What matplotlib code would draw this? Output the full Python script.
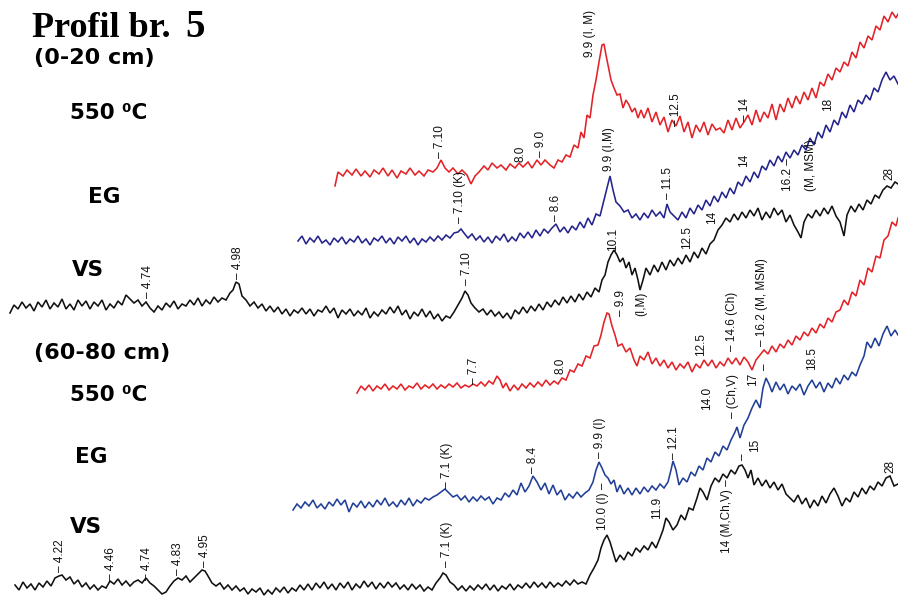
import matplotlib
matplotlib.use("Agg")
import matplotlib.pyplot as plt
from matplotlib import font_manager
import numpy as np

# traces: (position, level) pairs, level grows downwards
red_top = [(335, 186), (338, 172), (343, 176), (347, 170), (352, 175), (356, 169), (361, 176), (365, 171),
           (370, 177), (374, 170), (379, 174), (383, 168), (388, 176), (392, 170), (397, 178), (401, 171),
           (406, 174), (410, 168), (415, 175), (419, 171), (424, 176), (428, 170), (433, 172), (437, 168),
           (441, 160), (445, 168), (449, 172), (453, 168), (458, 174), (462, 170), (467, 175), (471, 184),
           (475, 176), (479, 172), (484, 166), (488, 170), (492, 163), (497, 168), (501, 165), (506, 170),
           (510, 164), (515, 168), (519, 163), (523, 167), (528, 162), (532, 168), (537, 160), (541, 165),
           (545, 160), (550, 165), (554, 168), (558, 160), (562, 162), (566, 155), (570, 157), (574, 145),
           (578, 148), (581, 132), (584, 138), (587, 115), (590, 118), (593, 95), (596, 80), (599, 62),
           (602, 45), (604, 44), (606, 55), (608, 65), (611, 80), (614, 88), (617, 95), (620, 94),
           (623, 108), (626, 100), (629, 105), (632, 112), (635, 108), (638, 118), (641, 110), (644, 118),
           (648, 108), (652, 122), (656, 112), (660, 125), (664, 117), (668, 132), (672, 120), (676, 126),
           (680, 116), (684, 132), (688, 122), (692, 138), (696, 125), (700, 132), (704, 122), (708, 135),
           (712, 124), (716, 130), (720, 128), (724, 133), (728, 120), (732, 130), (736, 118), (740, 128),
           (744, 122), (748, 115), (752, 125), (756, 110), (760, 122), (764, 112), (768, 118), (772, 104),
           (776, 120), (780, 104), (784, 112), (788, 98), (792, 108), (796, 96), (800, 104), (804, 92),
           (808, 100), (812, 88), (816, 98), (820, 82), (824, 86), (828, 74), (832, 80), (836, 68),
           (840, 72), (844, 62), (848, 66), (852, 52), (856, 58), (860, 42), (864, 48), (868, 36),
           (872, 40), (876, 26), (880, 30), (884, 16), (888, 22), (892, 12), (896, 18), (898, 14)]

blue_top = [(298, 241), (302, 236), (306, 244), (310, 238), (314, 242), (318, 236), (322, 243), (326, 240),
            (330, 245), (334, 238), (338, 242), (342, 237), (346, 244), (350, 239), (354, 242), (358, 236),
            (362, 243), (366, 239), (370, 245), (374, 238), (378, 241), (382, 236), (386, 243), (390, 238),
            (394, 244), (398, 237), (402, 241), (406, 236), (410, 243), (414, 238), (418, 245), (422, 239),
            (426, 242), (430, 237), (434, 241), (438, 236), (442, 240), (446, 235), (450, 238), (454, 233),
            (458, 232), (461, 229), (464, 233), (468, 238), (472, 234), (476, 240), (480, 236), (484, 242),
            (488, 237), (492, 243), (496, 236), (500, 240), (504, 234), (508, 242), (512, 237), (516, 241),
            (520, 233), (524, 238), (528, 232), (532, 238), (536, 230), (540, 236), (544, 229), (548, 233),
            (552, 228), (556, 224), (560, 232), (564, 227), (568, 233), (572, 226), (576, 230), (580, 222),
            (584, 228), (588, 218), (592, 225), (596, 214), (600, 216), (604, 200), (607, 188), (610, 176),
            (613, 190), (616, 202), (620, 206), (624, 212), (628, 210), (632, 218), (636, 214), (640, 220),
            (644, 213), (648, 218), (652, 210), (656, 216), (660, 212), (664, 218), (667, 204), (670, 212),
            (674, 216), (678, 220), (682, 212), (686, 218), (690, 208), (694, 214), (698, 205), (702, 210),
            (706, 200), (710, 206), (714, 196), (718, 202), (722, 192), (726, 198), (730, 188), (734, 194),
            (738, 182), (742, 186), (746, 176), (750, 182), (754, 172), (758, 178), (762, 166), (766, 170),
            (770, 160), (774, 166), (778, 156), (782, 162), (786, 152), (790, 158), (794, 150), (798, 155),
            (802, 145), (806, 150), (810, 138), (814, 145), (818, 132), (822, 138), (826, 125), (830, 132),
            (834, 120), (838, 125), (842, 112), (846, 118), (850, 105), (854, 112), (858, 100), (862, 104),
            (866, 95), (870, 100), (874, 88), (878, 92), (882, 80), (886, 72), (890, 80), (894, 76), (898, 84)]

black_top = [(10, 313), (14, 305), (18, 309), (22, 302), (26, 308), (30, 304), (34, 311), (38, 302),
             (42, 307), (46, 300), (50, 309), (54, 303), (58, 307), (62, 299), (66, 309), (70, 304),
             (74, 310), (78, 300), (82, 306), (86, 301), (90, 309), (94, 302), (98, 306), (102, 300),
             (106, 310), (110, 304), (114, 308), (118, 301), (122, 305), (126, 295), (130, 299), (134, 303),
             (138, 300), (142, 306), (146, 302), (150, 308), (154, 312), (158, 306), (162, 310), (166, 303),
             (170, 307), (174, 301), (178, 309), (182, 304), (186, 306), (190, 300), (194, 305), (198, 298),
             (202, 306), (206, 300), (210, 304), (214, 297), (218, 302), (222, 298), (226, 300), (230, 293),
             (233, 290), (236, 282), (239, 284), (242, 296), (246, 300), (250, 306), (254, 302), (258, 308),
             (262, 304), (266, 311), (270, 306), (274, 312), (278, 307), (282, 314), (286, 309), (290, 316),
             (294, 310), (298, 313), (302, 308), (306, 314), (310, 309), (314, 316), (318, 310), (322, 312),
             (326, 306), (330, 313), (334, 308), (338, 318), (342, 310), (346, 314), (350, 309), (354, 316),
             (358, 311), (362, 315), (366, 308), (370, 318), (374, 312), (378, 316), (382, 310), (386, 314),
             (390, 307), (394, 313), (398, 306), (402, 315), (406, 310), (410, 319), (414, 312), (418, 316),
             (422, 309), (426, 317), (430, 311), (434, 319), (438, 314), (442, 321), (446, 316), (450, 318),
             (454, 312), (458, 305), (462, 298), (465, 291), (468, 295), (471, 303), (475, 308), (479, 312),
             (483, 309), (487, 315), (491, 310), (495, 316), (499, 312), (503, 318), (507, 313), (511, 319),
             (515, 310), (519, 314), (523, 307), (527, 313), (531, 306), (535, 311), (539, 304), (543, 310),
             (547, 302), (551, 307), (555, 300), (559, 305), (563, 297), (567, 303), (571, 296), (575, 302),
             (579, 294), (583, 300), (587, 292), (591, 297), (595, 288), (599, 292), (602, 280), (605, 275),
             (608, 262), (611, 255), (614, 250), (617, 255), (620, 262), (623, 258), (626, 268), (629, 262),
             (632, 275), (635, 268), (638, 280), (640, 290), (643, 280), (646, 268), (650, 275), (654, 265),
             (658, 272), (662, 262), (666, 270), (670, 260), (674, 266), (678, 258), (682, 264), (686, 255),
             (690, 262), (694, 252), (698, 258), (702, 248), (706, 254), (710, 244), (714, 240), (718, 230),
             (722, 225), (726, 218), (730, 222), (734, 214), (738, 220), (742, 212), (746, 218), (750, 210),
             (754, 216), (758, 208), (762, 220), (766, 212), (770, 218), (774, 208), (778, 215), (782, 210),
             (786, 222), (790, 215), (794, 225), (798, 232), (801, 238), (804, 222), (808, 214), (812, 218),
             (816, 210), (820, 216), (824, 208), (828, 214), (832, 206), (836, 216), (840, 222), (844, 236),
             (847, 215), (851, 206), (855, 212), (859, 204), (863, 210), (867, 200), (871, 204), (875, 195),
             (879, 198), (883, 190), (887, 186), (891, 188), (895, 182), (898, 184)]

red_bottom = [(357, 393), (361, 386), (365, 390), (369, 385), (373, 391), (377, 386), (381, 389), (385, 384),
              (389, 390), (393, 386), (397, 389), (401, 384), (405, 390), (409, 386), (413, 388), (417, 383),
              (421, 389), (425, 385), (429, 388), (433, 384), (437, 389), (441, 385), (445, 388), (449, 384),
              (453, 387), (457, 383), (461, 388), (465, 385), (469, 387), (473, 384), (477, 386), (481, 382),
              (485, 386), (489, 381), (493, 384), (497, 376), (500, 380), (503, 388), (506, 383), (510, 391),
              (514, 385), (518, 390), (522, 384), (526, 388), (530, 383), (534, 387), (538, 382), (542, 386),
              (546, 380), (550, 385), (554, 381), (558, 384), (562, 378), (566, 380), (570, 370), (574, 372),
              (578, 364), (582, 366), (586, 356), (590, 358), (594, 346), (598, 345), (601, 335), (604, 322),
              (607, 313), (609, 314), (612, 326), (615, 335), (618, 346), (622, 344), (626, 352), (630, 348),
              (634, 360), (637, 366), (640, 356), (644, 360), (648, 352), (652, 364), (656, 358), (660, 366),
              (664, 360), (668, 368), (672, 362), (676, 370), (680, 364), (684, 368), (688, 362), (692, 372),
              (696, 364), (700, 368), (704, 360), (708, 366), (712, 360), (716, 368), (720, 362), (724, 366),
              (728, 358), (732, 364), (736, 358), (740, 365), (744, 357), (748, 362), (752, 370), (756, 360),
              (760, 355), (764, 350), (768, 354), (772, 346), (776, 352), (780, 344), (784, 348), (788, 340),
              (792, 345), (796, 336), (800, 340), (804, 332), (808, 336), (812, 328), (816, 333), (820, 324),
              (824, 328), (828, 318), (832, 322), (836, 312), (840, 310), (844, 300), (848, 305), (852, 292),
              (856, 296), (860, 280), (864, 285), (868, 268), (872, 272), (876, 256), (880, 258), (884, 240),
              (888, 236), (892, 222), (896, 226), (898, 218)]

blue_bottom = [(293, 510), (297, 504), (301, 508), (305, 502), (309, 506), (313, 500), (317, 508), (321, 504),
               (325, 509), (329, 502), (333, 506), (337, 499), (341, 505), (345, 500), (349, 512), (353, 503),
               (357, 507), (361, 501), (365, 508), (369, 502), (373, 507), (377, 500), (381, 505), (385, 498),
               (389, 506), (393, 502), (397, 507), (401, 500), (405, 505), (409, 498), (413, 506), (417, 500),
               (421, 503), (425, 498), (429, 500), (433, 497), (437, 495), (441, 492), (445, 489), (449, 493),
               (453, 497), (457, 495), (461, 500), (465, 496), (469, 502), (473, 497), (477, 501), (481, 496),
               (485, 500), (489, 497), (493, 504), (497, 498), (501, 500), (505, 493), (509, 497), (513, 490),
               (517, 495), (521, 483), (525, 492), (529, 486), (533, 476), (537, 482), (541, 490), (545, 483),
               (549, 494), (553, 485), (557, 495), (561, 490), (565, 500), (569, 494), (573, 498), (577, 492),
               (581, 497), (585, 493), (589, 490), (593, 482), (596, 470), (599, 462), (602, 468), (605, 475),
               (608, 478), (611, 484), (614, 480), (617, 492), (620, 485), (624, 494), (628, 488), (632, 495),
               (636, 488), (640, 494), (644, 487), (648, 492), (652, 486), (656, 490), (660, 484), (664, 488),
               (668, 482), (671, 470), (673, 461), (676, 470), (679, 485), (683, 478), (687, 482), (691, 472),
               (695, 476), (699, 466), (703, 470), (707, 458), (711, 462), (715, 452), (719, 456), (723, 446),
               (727, 450), (731, 440), (735, 432), (737, 427), (740, 438), (744, 425), (748, 418), (752, 408),
               (756, 400), (760, 408), (763, 388), (766, 378), (769, 384), (772, 392), (776, 382), (780, 390),
               (784, 384), (788, 394), (792, 386), (796, 390), (800, 384), (804, 395), (808, 386), (812, 380),
               (816, 388), (820, 382), (824, 392), (828, 383), (832, 388), (836, 378), (840, 384), (844, 375),
               (848, 380), (852, 372), (856, 376), (860, 365), (864, 356), (867, 342), (871, 348), (875, 338),
               (879, 346), (883, 334), (887, 326), (891, 336), (895, 330), (898, 335)]

black_bottom = [(15, 585), (19, 590), (23, 582), (27, 588), (31, 584), (35, 590), (39, 583), (43, 587),
                (47, 581), (51, 586), (55, 578), (59, 576), (62, 575), (66, 580), (70, 577), (74, 584),
                (78, 580), (82, 587), (86, 583), (90, 589), (94, 585), (98, 590), (102, 586), (106, 588),
                (110, 581), (114, 584), (118, 579), (122, 585), (126, 581), (130, 586), (134, 582), (138, 580),
                (142, 583), (146, 578), (150, 583), (154, 586), (158, 590), (162, 594), (166, 592), (170, 586),
                (174, 581), (178, 578), (182, 580), (186, 576), (190, 582), (194, 578), (198, 574), (202, 570),
                (205, 571), (208, 576), (212, 583), (216, 586), (220, 583), (224, 589), (228, 585), (232, 590),
                (236, 586), (240, 591), (244, 588), (248, 594), (252, 589), (256, 592), (260, 588), (264, 595),
                (268, 590), (272, 594), (276, 588), (280, 592), (284, 587), (288, 593), (292, 588), (296, 591),
                (300, 585), (304, 590), (308, 584), (312, 590), (316, 583), (320, 588), (324, 582), (328, 589),
                (332, 584), (336, 590), (340, 583), (344, 588), (348, 582), (352, 590), (356, 584), (360, 588),
                (364, 581), (368, 587), (372, 582), (376, 589), (380, 583), (384, 588), (388, 582), (392, 587),
                (396, 583), (400, 589), (404, 585), (408, 590), (412, 584), (416, 589), (420, 585), (424, 591),
                (428, 587), (432, 590), (436, 583), (440, 578), (443, 573), (446, 575), (450, 582), (454, 585),
                (458, 590), (462, 586), (466, 591), (470, 586), (474, 590), (478, 585), (482, 589), (486, 584),
                (490, 590), (494, 585), (498, 591), (502, 586), (506, 589), (510, 584), (514, 590), (518, 585),
                (522, 588), (526, 583), (530, 588), (534, 582), (538, 587), (542, 583), (546, 588), (550, 582),
                (554, 587), (558, 583), (562, 586), (566, 581), (570, 585), (574, 580), (578, 584), (582, 582),
                (586, 584), (590, 575), (594, 568), (598, 560), (601, 548), (604, 540), (607, 535), (610, 542),
                (613, 552), (616, 562), (620, 555), (624, 560), (628, 552), (632, 556), (636, 548), (640, 552),
                (644, 546), (648, 550), (652, 542), (656, 548), (660, 538), (663, 530), (666, 518), (669, 522),
                (673, 530), (677, 525), (681, 515), (685, 520), (689, 508), (693, 510), (697, 498), (700, 488),
                (703, 492), (707, 500), (711, 486), (715, 478), (719, 482), (723, 474), (727, 478), (731, 470),
                (735, 474), (739, 466), (742, 465), (745, 470), (748, 478), (751, 470), (754, 485), (758, 478),
                (762, 486), (766, 480), (770, 488), (774, 482), (778, 490), (782, 484), (786, 494), (790, 498),
                (794, 502), (798, 495), (802, 504), (806, 498), (810, 508), (814, 500), (818, 506), (822, 496),
                (826, 503), (830, 494), (834, 488), (838, 496), (842, 506), (846, 498), (850, 502), (854, 492),
                (858, 497), (862, 488), (866, 494), (870, 486), (874, 490), (878, 482), (882, 486), (886, 478),
                (890, 476), (894, 486), (898, 484)]

# peak labels (position, foot of the label, text)
peak_labels = [
    (440, 158, "– 7.10"), (520, 162, "8.0"), (541, 157, "– 9.0"), (590, 57, "9.9 (I, M)"),
    (676, 126, "– 12.5"), (745, 121, "– 14"),
    (460, 223, "– 7.10 (K)"), (556, 221, "– 8.6"), (609, 171, "9.9 (I,M)"), (668, 199, "– 11.5"),
    (744, 167, "14"), (788, 191, "16.2 –"), (811, 191, "(M, MSM)"), (828, 111, "18"),
    (148, 298, "– 4.74"), (238, 279, "– 4.98"), (467, 285, "– 7.10"), (613, 251, "10.1"),
    (641, 316, "(I,M)"), (687, 249, "12.5"), (712, 224, "14"), (889, 180, "28"),
    (474, 384, "– 7.7"), (560, 374, "8.0"), (621, 316, "– 9.9"), (701, 356, "12.5"),
    (732, 351, "– 14.6 (Ch)"), (762, 346, "– 16.2 (M, MSM)"),
    (447, 488, "– 7.1 (K)"), (533, 473, "– 8.4"), (600, 458, "– 9.9 (I)"), (674, 459, "– 12.1"),
    (707, 410, "14.0"), (733, 418, "– (Ch,V)"), (753, 386, "17"), (765, 370, "–"), (812, 370, "18.5"),
    (60, 572, "– 4.22"), (111, 580, "– 4.46"), (147, 580, "– 4.74"), (178, 575, "– 4.83"),
    (205, 567, "– 4.95"), (447, 567, "– 7.1 (K)"), (603, 530, "10.0 (I) –"), (657, 519, "11.9"),
    (727, 553, "14 (M,Ch,V) –"), (743, 460, "–"), (755, 452, "15"), (890, 473, "28"),
]

# left hand captions
depths = [(34, 58, "(0-20 cm)"), (34, 353, "(60-80 cm)")]
captions = [
    (70, 113, "550 ⁰C"), (88, 197, "EG"), (72, 270, "VS"),
    (70, 395, "550 ⁰C"), (75, 457, "EG"), (70, 527, "VS"),
]

names = {f.name for f in font_manager.fontManager.ttflist}
serif = "Liberation Serif" if "Liberation Serif" in names else "DejaVu Serif"
label_font = "Liberation Sans" if "Liberation Sans" in names else "DejaVu Sans"

fig = plt.figure(figsize=(8.98, 6.0), dpi=100)
ax = fig.add_axes([0, 0, 1, 1])
ax.set_xlim(0, 898)
ax.set_ylim(600, 0)
ax.axis("off")

traces = [(red_top, "#e32227"), (blue_top, "#24248c"), (black_top, "#111111"),
          (red_bottom, "#e32227"), (blue_bottom, "#213f98"), (black_bottom, "#111111")]
for pts, col in traces:
    arr = np.array(pts)
    ax.plot(arr[:, 0], arr[:, 1], color=col, lw=1.15, solid_joinstyle="miter")

for x, y, s in peak_labels:
    ax.text(x, y, s, rotation=90, ha="center", va="bottom", fontsize=8.5,
            family=label_font, color="#111111")

ax.text(32, 37, "Profil br.", fontsize=26, fontweight="bold", family=serif, va="baseline")
ax.text(185, 37, "5", fontsize=28, fontweight="bold", family=serif, va="baseline")
for x, y, s in depths:
    ax.text(x, y, s, fontsize=16, fontweight="bold", family="DejaVu Sans", va="center")
for x, y, s in captions:
    ax.text(x, y, s, fontsize=15.5, fontweight="bold", family="DejaVu Sans", va="center")

fig.savefig("out.png", dpi=100, facecolor="white")
